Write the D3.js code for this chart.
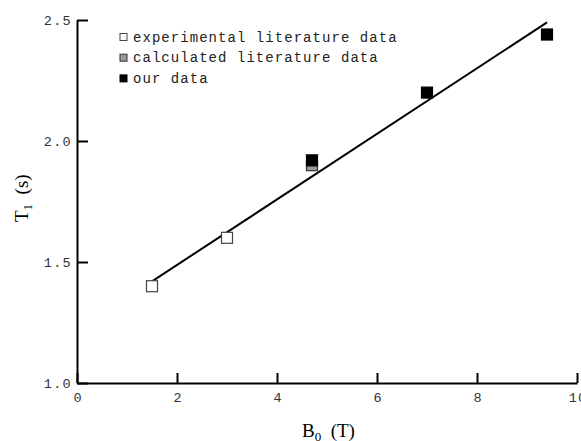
<!DOCTYPE html>
<html><head><meta charset="utf-8">
<script src="https://cdn.jsdelivr.net/npm/d3@7"></script>
<style>body{margin:0;background:#fff}svg{display:block}</style>
</head><body>
<script>
// Data
const expX = [1.5, 3.0];
const expY = [1.40, 1.60];
const calcX = [4.7];
const calcY = [1.90];
const ourX = [4.7, 7.0, 9.4];
const ourY = [1.92, 2.20, 2.44];
const fitX = [1.5, 9.4];
const fitY = [1.42, 2.49];
const xTicks = [0, 2, 4, 6, 8, 10];
const yTicks = [1.0, 1.5, 2.0, 2.5];
const legendLabels = ["experimental literature data", "calculated literature data", "our data"];

const W = 581, H = 441;
const svg = d3.select("body").append("svg").attr("width", W).attr("height", H);
const x = d3.scaleLinear().domain([0, 10]).range([77, 577]);
const y = d3.scaleLinear().domain([1.0, 2.5]).range([383, 20]);

const mono = "'Liberation Mono', 'Courier New', monospace";
const serif = "'Liberation Serif', 'Times New Roman', serif";

// X axis
const gx = svg.append("g").attr("transform", `translate(0,${y(1.0)})`)
  .call(d3.axisBottom(x).tickValues(xTicks).tickFormat(d3.format("d")).tickSizeInner(-10).tickSizeOuter(0).tickPadding(9));
// Y axis
const gy = svg.append("g").attr("transform", `translate(${x(0)},0)`)
  .call(d3.axisLeft(y).tickValues(yTicks).tickFormat(d3.format(".1f")).tickSizeInner(-11).tickSizeOuter(0).tickPadding(6));

[gx, gy].forEach(g => {
  g.select(".domain").attr("stroke", "#000").attr("stroke-width", 2);
  g.selectAll(".tick line").attr("stroke", "#000").attr("stroke-width", 2);
  g.selectAll(".tick text").attr("font-family", mono).attr("font-size", 13.5)
    .attr("fill", "#333").style("letter-spacing", "1.3px");
});
gx.selectAll(".tick text").attr("dx", "0.6px");
gy.selectAll(".tick text").attr("dx", "1px");

// Fit line
svg.append("path")
  .datum(fitX.map((d, i) => [d, fitY[i]]))
  .attr("d", d3.line().x(d => x(d[0])).y(d => y(d[1])))
  .attr("fill", "none").attr("stroke", "#000").attr("stroke-width", 2);

// Markers
const S = 11;
function drawSquares(xs, ys, fill, stroke) {
  svg.append("g").selectAll("rect").data(xs.map((d, i) => [d, ys[i]])).join("rect")
    .attr("x", d => x(d[0]) - S / 2).attr("y", d => y(d[1]) - S / 2)
    .attr("width", S).attr("height", S)
    .attr("fill", fill).attr("stroke", stroke).attr("stroke-width", 1.2);
}
drawSquares(expX, expY, "#fff", "#444");
drawSquares(calcX, calcY, "#999", "#333");
drawSquares(ourX, ourY, "#000", "#000");

// Legend
const legFill = ["#fff", "#999", "#000"];
const legStroke = ["#444", "#333", "#000"];
const leg = svg.append("g");
legendLabels.forEach((t, i) => {
  const cy = 37 + i * 20.7;
  leg.append("rect").attr("x", 120).attr("y", cy - 3.5).attr("width", 7).attr("height", 7)
    .attr("fill", legFill[i]).attr("stroke", legStroke[i]).attr("stroke-width", 1);
  leg.append("text").attr("x", 133).attr("y", cy + 4.5).text(t)
    .attr("font-family", mono).attr("font-size", 14).attr("fill", "#222")
    .style("letter-spacing", "1.05px");
});

// Axis titles
const xt = svg.append("text").attr("x", 302).attr("y", 437)
  .attr("font-family", serif).attr("font-size", 19).attr("fill", "#000");
xt.append("tspan").text("B");
xt.append("tspan").text("0").attr("font-size", 13).attr("dy", 4);
xt.append("tspan").text("\u00a0 (T)").attr("dy", -4);

const yt = svg.append("text").attr("transform", "translate(28,222) rotate(-90)")
  .attr("font-family", serif).attr("font-size", 19).attr("fill", "#000");
yt.append("tspan").text("T");
yt.append("tspan").text("1").attr("font-size", 13).attr("dy", 4);
yt.append("tspan").text("\u00a0 (s)").attr("dy", -4);
</script>
</body></html>
